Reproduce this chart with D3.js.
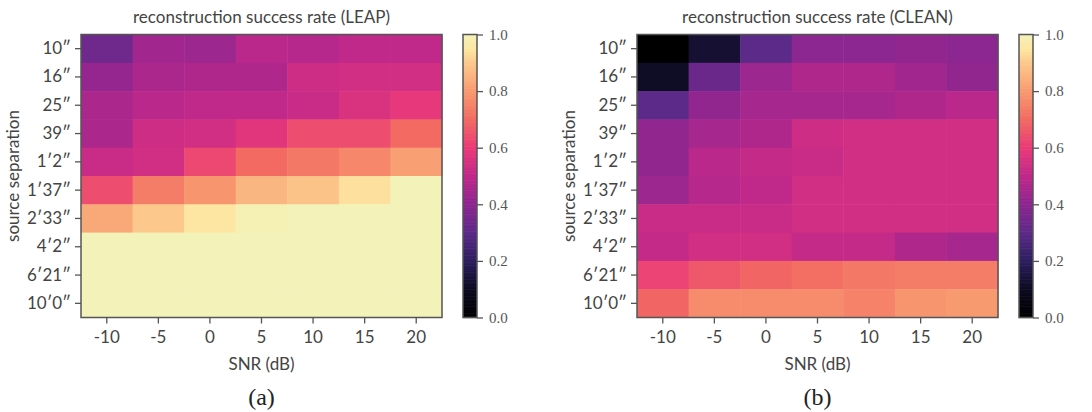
<!DOCTYPE html>
<html>
<head>
<meta charset="utf-8">
<script src="https://cdn.jsdelivr.net/npm/d3@7"></script>
<style>
  body { margin: 0; background: #fff; }
  svg { display: block; }
  .sans { font-family: Lato, "Open Sans", sans-serif; fill: #444; }
  .serif { font-family: "Liberation Serif", "DejaVu Serif", serif; fill: #555; }
</style>
</head>
<body>
<div id="chart"></div>
<script>
// reconstruction success rate heatmaps, LEAP vs CLEAN

const snr = [-10, -5, 0, 5, 10, 15, 20]
const separations = ["10″", "16″", "25″", "39″", "1′2″", "1′37″", "2′33″", "4′2″", "6′21″", "10′0″"]

// one row per separation, one value per SNR
const leapRate = [
  [0.34, 0.44, 0.43, 0.49, 0.48, 0.50, 0.50],
  [0.42, 0.46, 0.47, 0.47, 0.53, 0.54, 0.54],
  [0.46, 0.49, 0.50, 0.50, 0.52, 0.56, 0.59],
  [0.46, 0.53, 0.54, 0.58, 0.64, 0.64, 0.70],
  [0.52, 0.54, 0.63, 0.70, 0.73, 0.76, 0.81],
  [0.64, 0.74, 0.79, 0.86, 0.89, 0.94, 1.00],
  [0.83, 0.90, 0.95, 0.99, 1.00, 1.00, 1.00],
  [1.00, 1.00, 1.00, 1.00, 1.00, 1.00, 1.00],
  [1.00, 1.00, 1.00, 1.00, 1.00, 1.00, 1.00],
  [1.00, 1.00, 1.00, 1.00, 1.00, 1.00, 1.00]
]

const cleanRate = [
  [0.00, 0.13, 0.30, 0.40, 0.40, 0.41, 0.40],
  [0.11, 0.33, 0.43, 0.47, 0.47, 0.44, 0.41],
  [0.30, 0.41, 0.45, 0.45, 0.45, 0.47, 0.49],
  [0.41, 0.45, 0.47, 0.53, 0.54, 0.54, 0.54],
  [0.41, 0.49, 0.51, 0.52, 0.54, 0.54, 0.54],
  [0.43, 0.48, 0.50, 0.54, 0.54, 0.54, 0.54],
  [0.52, 0.52, 0.52, 0.54, 0.54, 0.54, 0.54],
  [0.51, 0.54, 0.54, 0.51, 0.51, 0.47, 0.45],
  [0.62, 0.66, 0.69, 0.71, 0.73, 0.74, 0.74],
  [0.69, 0.77, 0.77, 0.77, 0.75, 0.79, 0.80]
]

const cbTicks = [0.0, 0.2, 0.4, 0.6, 0.8, 1.0]

// magma-like ramp sampled from the colorbar
const rampStops = [0, 0.1, 0.2, 0.3, 0.4, 0.5, 0.6, 0.7, 0.8, 0.9, 0.95, 1.0]
const rampColors = ["#000000", "#0c0a20", "#2c1f5e", "#5c2a88", "#8c2690", "#c0288a",
                    "#ea3a78", "#f26a62", "#f89a70", "#fcc88c", "#fde6a2", "#f3f2b8"]

const color = d3.scaleLinear().domain(rampStops).range(rampColors).interpolate(d3.interpolateRgb)

const W = 1092, H = 412
const svg = d3.select("#chart").append("svg").attr("width", W).attr("height", H)

function panel(data, title, letter, left) {
  let width = 361, height = 283, top = 34.5

  let g = svg.append("g").attr("transform", `translate(${left}, ${top})`)

  let x = d3.scaleBand().domain(snr).range([0, width])
  let y = d3.scaleBand().domain(separations).range([0, height])

  let cells = []
  data.forEach((row, i) => row.forEach((v, j) => cells.push({sep: separations[i], snr: snr[j], v: v})))

  g.selectAll("rect.cell")
    .data(cells)
      .enter()
    .append("rect")
    .attr("class", "cell")
    .attr("x", d => x(d.snr))
    .attr("y", d => y(d.sep))
    .attr("width", x.bandwidth() + 0.5)
    .attr("height", y.bandwidth() + 0.5)
    .attr("fill", d => color(d.v))

  // frame
  g.append("rect")
    .attr("width", width).attr("height", height)
    .attr("fill", "none").attr("stroke", "#555").attr("stroke-width", 1.5)

  // axes
  let xAxis = g.append("g")
    .attr("transform", `translate(0, ${height})`)
    .call(d3.axisBottom(x).tickSize(6).tickPadding(7))
  let yAxis = g.append("g")
    .call(d3.axisLeft(y).tickSize(6).tickPadding(4))

  ;[xAxis, yAxis].forEach(a => {
    a.select(".domain").remove()
    a.selectAll(".tick line").attr("stroke", "#555").attr("stroke-width", 1.3)
    a.selectAll(".tick text").attr("class", "sans").style("font-size", "17px").attr("fill", "#444")
  })

  g.append("text")
    .attr("class", "sans")
    .attr("x", width / 2).attr("y", -12)
    .style("text-anchor", "middle").style("font-size", "17px")
    .text(title)

  g.append("text")
    .attr("class", "sans")
    .attr("x", width / 2).attr("y", height + 52)
    .style("text-anchor", "middle").style("font-size", "17px")
    .text("SNR (dB)")

  g.append("text")
    .attr("class", "sans")
    .attr("transform", `translate(${-62}, ${height / 2}) rotate(-90)`)
    .style("text-anchor", "middle").style("font-size", "17px")
    .text("source separation")

  g.append("text")
    .attr("class", "serif")
    .attr("x", width / 2).attr("y", height + 87)
    .style("text-anchor", "middle").style("font-size", "24px")
    .style("fill", "#222")
    .text(letter)

  // colorbar
  let cbX = width + 21, cbW = 14
  let cb = g.append("g").attr("transform", `translate(${cbX}, 0)`)
  let cy = d3.scaleLinear().domain([0, 1]).range([height, 0])

  cb.selectAll("rect.cb")
    .data(d3.range(0, 1, 1 / 200))
    .enter()
    .append("rect")
    .attr("x", 0).attr("width", cbW)
    .attr("y", d => cy(d + 1 / 200))
    .attr("height", height / 200 + 0.6)
    .attr("fill", d => color(d + 0.5 / 200))

  cb.append("rect")
    .attr("width", cbW).attr("height", height)
    .attr("fill", "none").attr("stroke", "#555").attr("stroke-width", 1.5)

  let cbAxis = cb.append("g")
    .attr("transform", `translate(${cbW}, 0)`)
    .call(d3.axisRight(cy).tickValues(cbTicks).tickFormat(d3.format(".1f")).tickSize(6).tickPadding(6))
  cbAxis.select(".domain").remove()
  cbAxis.selectAll(".tick line").attr("stroke", "#555").attr("stroke-width", 1.3)
  cbAxis.selectAll(".tick text").attr("class", "serif").style("font-size", "15px").attr("fill", "#555")
}

panel(leapRate, "reconstruction success rate (LEAP)", "(a)", 81)
panel(cleanRate, "reconstruction success rate (CLEAN)", "(b)", 637)
</script>
</body>
</html>
